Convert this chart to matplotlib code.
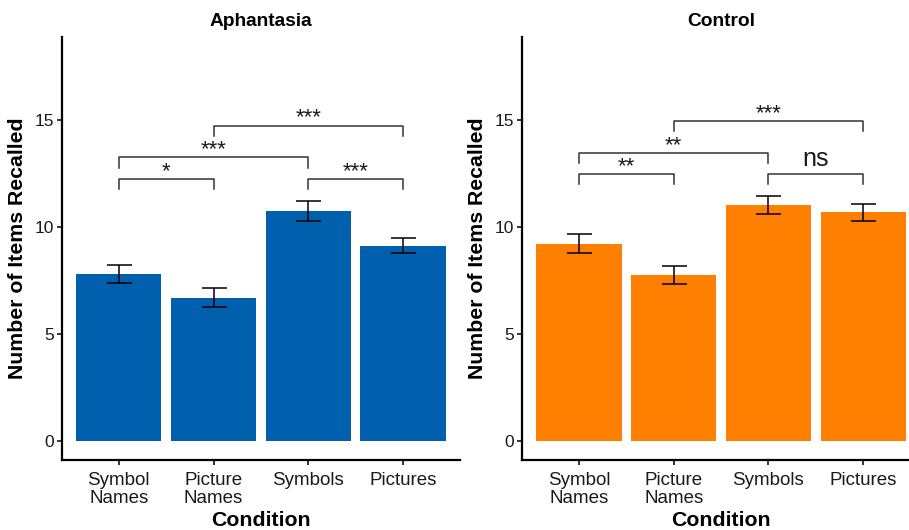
import matplotlib.pyplot as plt

plt.rcParams['font.family'] = ['Liberation Sans', 'DejaVu Sans']

conditions = ['Symbol\nNames', 'Picture\nNames', 'Symbols', 'Pictures']

aph_means = [7.8, 6.7, 10.77, 9.13]
aph_err = [0.43, 0.45, 0.46, 0.36]
ctl_means = [9.22, 7.75, 11.05, 10.7]
ctl_err = [0.45, 0.42, 0.42, 0.4]

# comparisons: (first bar, second bar, bracket height, label)
aph_sig = [(0, 1, 12.25, '*'), (2, 3, 12.25, '***'),
           (0, 2, 13.27, '***'), (1, 3, 14.75, '***')]
ctl_sig = [(0, 1, 12.49, '**'), (2, 3, 12.49, 'ns'),
           (0, 2, 13.47, '**'), (1, 3, 14.97, '***')]

fig = plt.figure(figsize=(9.09, 5.30), dpi=100)
ax1 = fig.add_axes([0.0682, 0.1321, 0.4378, 0.798])
ax2 = fig.add_axes([0.5743, 0.1321, 0.4378, 0.798])


def draw_panel(ax, title, means, err, sig, color):
    x = range(len(conditions))
    ax.bar(x, means, width=0.9, color=color)
    ax.errorbar(x, means, yerr=err, fmt='none', ecolor='black',
                elinewidth=1.1, capsize=9, capthick=1.1)
    tip = 0.48
    for a, b, y, lab in sig:
        ax.plot([a, a, b, b], [y - tip, y, y, y - tip], color='#333333', lw=1.1)
        if lab == 'ns':
            ax.text((a + b) / 2, y + 0.36, lab, ha='center', va='baseline',
                    fontsize=18, color='#1a1a1a')
        else:
            ax.text((a + b) / 2, y + 0.1, lab, ha='center', va='baseline',
                    fontsize=16, color='#1a1a1a')
    ax.set_xlim(-0.6, 3.6)
    ax.set_ylim(-0.9, 18.9)
    ax.set_yticks([0, 5, 10, 15])
    ax.set_xticks(list(x))
    ax.set_xticklabels(conditions, linespacing=1.1)
    ax.tick_params(axis='both', labelsize=13.5, length=3.5, width=1.1,
                   labelcolor='#1a1a1a', pad=5)
    ax.tick_params(axis='y', labelsize=12.5, pad=2)
    for s in ['top', 'right']:
        ax.spines[s].set_visible(False)
    for s in ['left', 'bottom']:
        ax.spines[s].set_linewidth(1.6)
    ax.set_title(title, fontsize=13.8, fontweight='bold', pad=8)
    ax.set_xlabel('Condition', fontsize=15.3, fontweight='bold', labelpad=3)
    ax.set_ylabel('Number of Items Recalled', fontsize=15.3, fontweight='bold',
                  labelpad=6)


draw_panel(ax1, 'Aphantasia', aph_means, aph_err, aph_sig, '#0060AD')
draw_panel(ax2, 'Control', ctl_means, ctl_err, ctl_sig, '#FF7F00')

fig.savefig('out.png', dpi=100)
